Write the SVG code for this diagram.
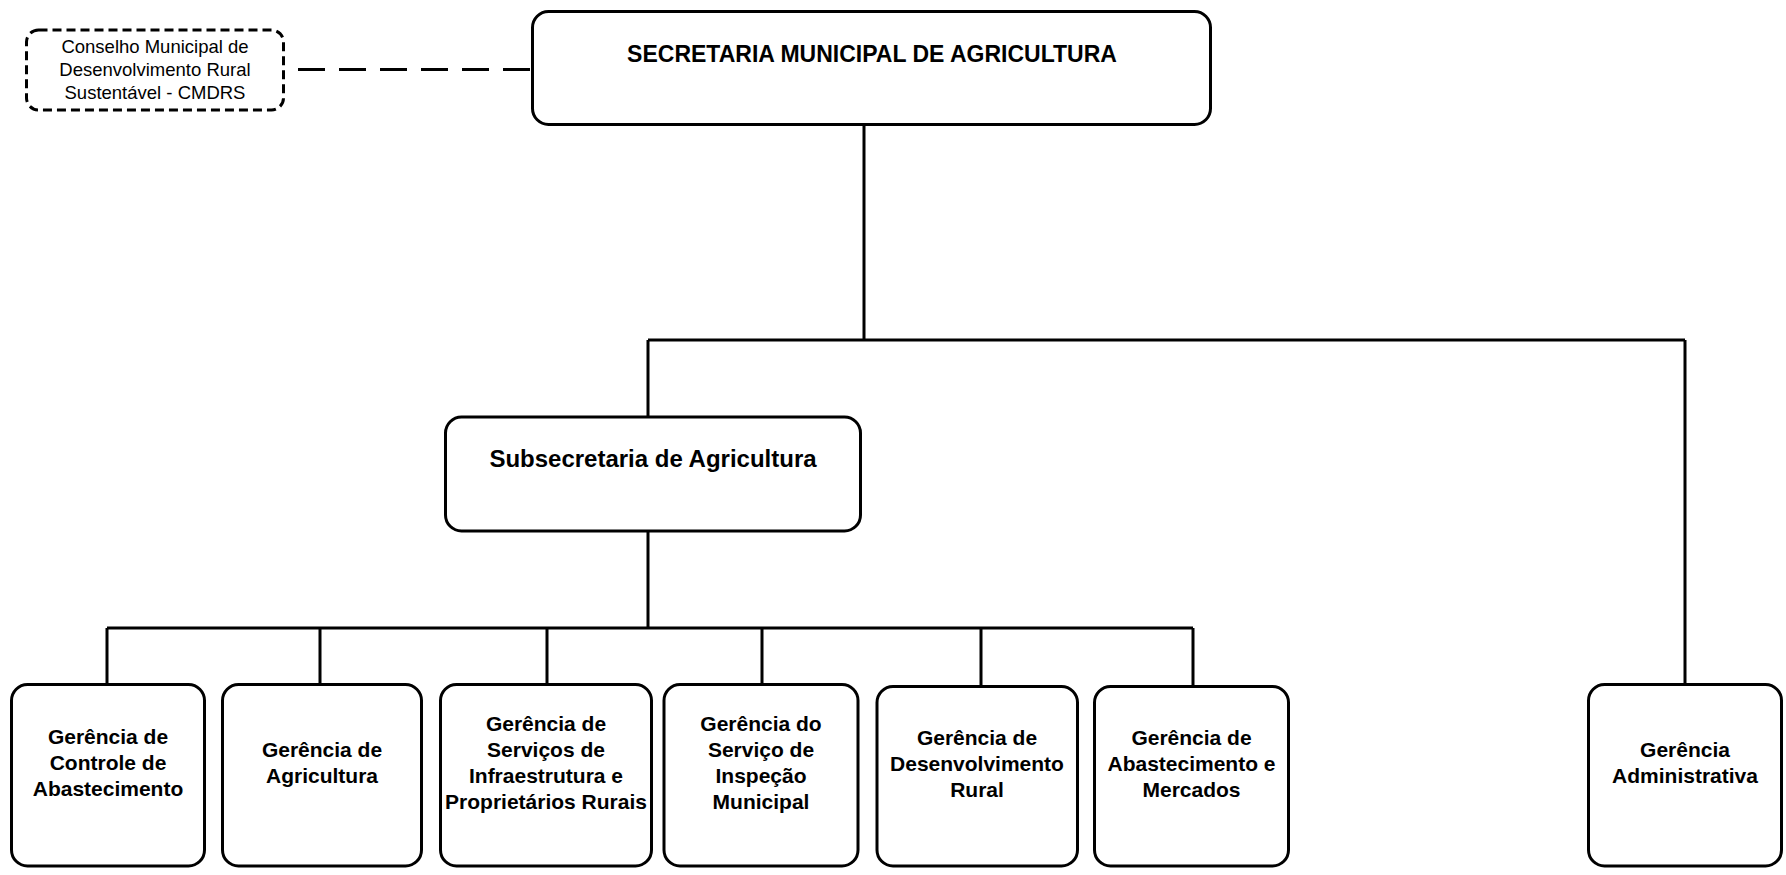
<svg xmlns="http://www.w3.org/2000/svg" width="1786" height="875" viewBox="0 0 1786 875">
<style>
.box{fill:#fff;stroke:#000;stroke-width:3}
.dbox{fill:#fff;stroke:#000;stroke-width:3;stroke-dasharray:9 5}
.ln{fill:none;stroke:#000;stroke-width:3}
.dln{fill:none;stroke:#000;stroke-width:3;stroke-dasharray:27 14}
text{font-family:"Liberation Sans",Arial,sans-serif;fill:#000;text-anchor:middle}
.t1{font-size:23px;font-weight:bold}
.t2{font-size:24px;font-weight:bold}
.t3{font-size:21px;font-weight:bold}
.t4{font-size:18.5px}
</style>
<rect width="1786" height="875" fill="#fff"/>
<g id="connectors">
<path class="dln" d="M298 69.5H532"/>
<path class="ln" d="M864 126V340M648 340H1685M648 340V417M1685 340V683"/>
<path class="ln" d="M648 532V628M107 628H1193M107 628V684M320 628V684M547 628V684M762 628V684M981 628V686M1193 628V686"/>
</g>
<g id="cmdrs">
<rect class="dbox" x="26.5" y="30" width="257" height="80" rx="12"/>
<text class="t4" x="155" y="53">Conselho Municipal de</text>
<text class="t4" x="155" y="76">Desenvolvimento Rural</text>
<text class="t4" x="155" y="98.5">Sustentável - CMDRS</text>
</g>
<g id="secretaria">
<rect class="box" x="532.5" y="11.5" width="678" height="113" rx="16"/>
<text class="t1" x="872" y="62">SECRETARIA MUNICIPAL DE AGRICULTURA</text>
</g>
<g id="subsecretaria">
<rect class="box" x="445.5" y="417" width="415" height="114" rx="16"/>
<text class="t2" x="653" y="467">Subsecretaria de Agricultura</text>
</g>
<g id="g1">
<rect class="box" x="11.5" y="684.5" width="193" height="181.5" rx="16"/>
<text class="t3" x="108" y="744">Gerência de</text>
<text class="t3" x="108" y="770">Controle de</text>
<text class="t3" x="108" y="796">Abastecimento</text>
</g>
<g id="g2">
<rect class="box" x="222.5" y="684.5" width="199" height="181.5" rx="16"/>
<text class="t3" x="322" y="757">Gerência de</text>
<text class="t3" x="322" y="783">Agricultura</text>
</g>
<g id="g3">
<rect class="box" x="440.5" y="684.5" width="211" height="181.5" rx="16"/>
<text class="t3" x="546" y="731">Gerência de</text>
<text class="t3" x="546" y="757">Serviços de</text>
<text class="t3" x="546" y="783">Infraestrutura e</text>
<text class="t3" x="546" y="809">Proprietários Rurais</text>
</g>
<g id="g4">
<rect class="box" x="664" y="684.5" width="194" height="181.5" rx="16"/>
<text class="t3" x="761" y="731">Gerência do</text>
<text class="t3" x="761" y="757">Serviço de</text>
<text class="t3" x="761" y="783">Inspeção</text>
<text class="t3" x="761" y="809">Municipal</text>
</g>
<g id="g5">
<rect class="box" x="877" y="686.5" width="200.5" height="179.5" rx="16"/>
<text class="t3" x="977" y="745">Gerência de</text>
<text class="t3" x="977" y="771">Desenvolvimento</text>
<text class="t3" x="977" y="797">Rural</text>
</g>
<g id="g6">
<rect class="box" x="1094.5" y="686.5" width="194" height="179.5" rx="16"/>
<text class="t3" x="1191.5" y="745">Gerência de</text>
<text class="t3" x="1191.5" y="771">Abastecimento e</text>
<text class="t3" x="1191.5" y="797">Mercados</text>
</g>
<g id="g7">
<rect class="box" x="1588.5" y="684.5" width="193" height="181.5" rx="16"/>
<text class="t3" x="1685" y="757">Gerência</text>
<text class="t3" x="1685" y="783">Administrativa</text>
</g>
</svg>
